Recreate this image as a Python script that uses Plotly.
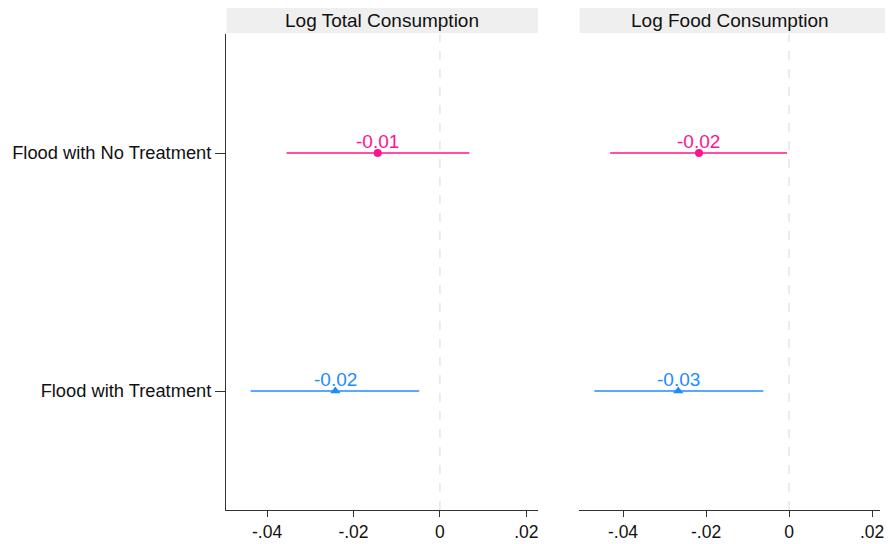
import plotly.graph_objects as go

# ---- data ----
outcomes = ["Log Total Consumption", "Log Food Consumption"]
groups = ["Flood with No Treatment", "Flood with Treatment"]
coef_total = [-0.0144, -0.0242]
lo_total = [-0.0355, -0.0438]
hi_total = [0.0068, -0.0048]
coef_food = [-0.0217, -0.0267]
lo_food = [-0.0431, -0.0469]
hi_food = [-0.0005, -0.0062]
x_ticks = [-0.04, -0.02, 0, 0.02]
x_tick_labels = ["-.04", "-.02", "0", ".02"]

colors = ["#ff1490", "#1e8cff"]
symbols = ["circle", "triangle-up"]
FONT = "Liberation Sans, Arial, sans-serif"
FS = 19

fig = go.Figure()
panels = [(coef_total, lo_total, hi_total, "x", "y"),
          (coef_food, lo_food, hi_food, "x2", "y2")]
for coefs, los, his, xa, ya in panels:
    for i, g in enumerate(groups):
        c = coefs[i]
        fig.add_trace(go.Scatter(
            x=[c], y=[i + 1], xaxis=xa, yaxis=ya,
            mode="markers",
            marker=dict(symbol=symbols[i], size=8 if i == 0 else 9, color=colors[i]),
            error_x=dict(type="data", symmetric=False,
                         array=[his[i] - c], arrayminus=[c - los[i]],
                         color=colors[i], thickness=1.6, width=0),
            showlegend=False, cliponaxis=False,
        ))
        fig.add_annotation(xref=xa, yref=ya, x=c, y=i + 1, text=f"{c:.2f}",
                           showarrow=False, yanchor="middle", xanchor="center",
                           yshift=12, font=dict(family=FONT, size=FS, color=colors[i]))

xcommon = dict(tickvals=x_ticks, ticktext=x_tick_labels,
               ticks="outside", ticklen=6, tickcolor="#333", showline=True,
               linecolor="#333", linewidth=1, showgrid=False, zeroline=False,
               tickfont=dict(family=FONT, size=17.5, color="#111"), automargin=False)
fig.update_layout(
    width=877, height=536,
    margin=dict(l=218, r=5, t=26, b=34),
    plot_bgcolor="white", paper_bgcolor="white",
    xaxis=dict(domain=[0, 0.4771], range=[-0.0495, 0.0227], anchor="y", **xcommon),
    xaxis2=dict(domain=[0.5398, 1], range=[-0.0506, 0.0219], anchor="y2", **xcommon),
    yaxis=dict(domain=[0, 1], range=[2.5, 0.5], tickvals=[1, 2], ticktext=groups,
               ticks="outside", ticklen=10, tickcolor="#333", showline=True,
               linecolor="#333", linewidth=1, showgrid=False, zeroline=False,
               tickfont=dict(family=FONT, size=18.3, color="#111"), automargin=False,
               anchor="x"),
    yaxis2=dict(domain=[0, 1], range=[2.5, 0.5], showticklabels=False, showline=False,
                showgrid=False, zeroline=False, ticks="", anchor="x2", matches="y"),
)

for k, xa in enumerate(["x", "x2"]):
    # zero reference line
    fig.add_shape(type="line", xref=xa, yref="y domain" if xa == "x" else "y2 domain",
                  x0=0, x1=0, y0=0, y1=1,
                  line=dict(color="#e6e6e6", width=1.5, dash="dash"), layer="below")
    # strip
    fig.add_shape(type="rect", xref=f"{xa} domain", yref="paper",
                  x0=0.002, x1=1.0 if xa == "x" else 1.017, y0=1.0021, y1=1.0546,
                  fillcolor="#efefef", line=dict(width=0), layer="below")
    fig.add_annotation(xref=f"{xa} domain", yref="paper", x=0.5, y=1.029,
                       yanchor="middle", xanchor="center",
                       text=outcomes[k], showarrow=False,
                       font=dict(family=FONT, size=FS, color="#111"))

fig.write_html("out.html")
